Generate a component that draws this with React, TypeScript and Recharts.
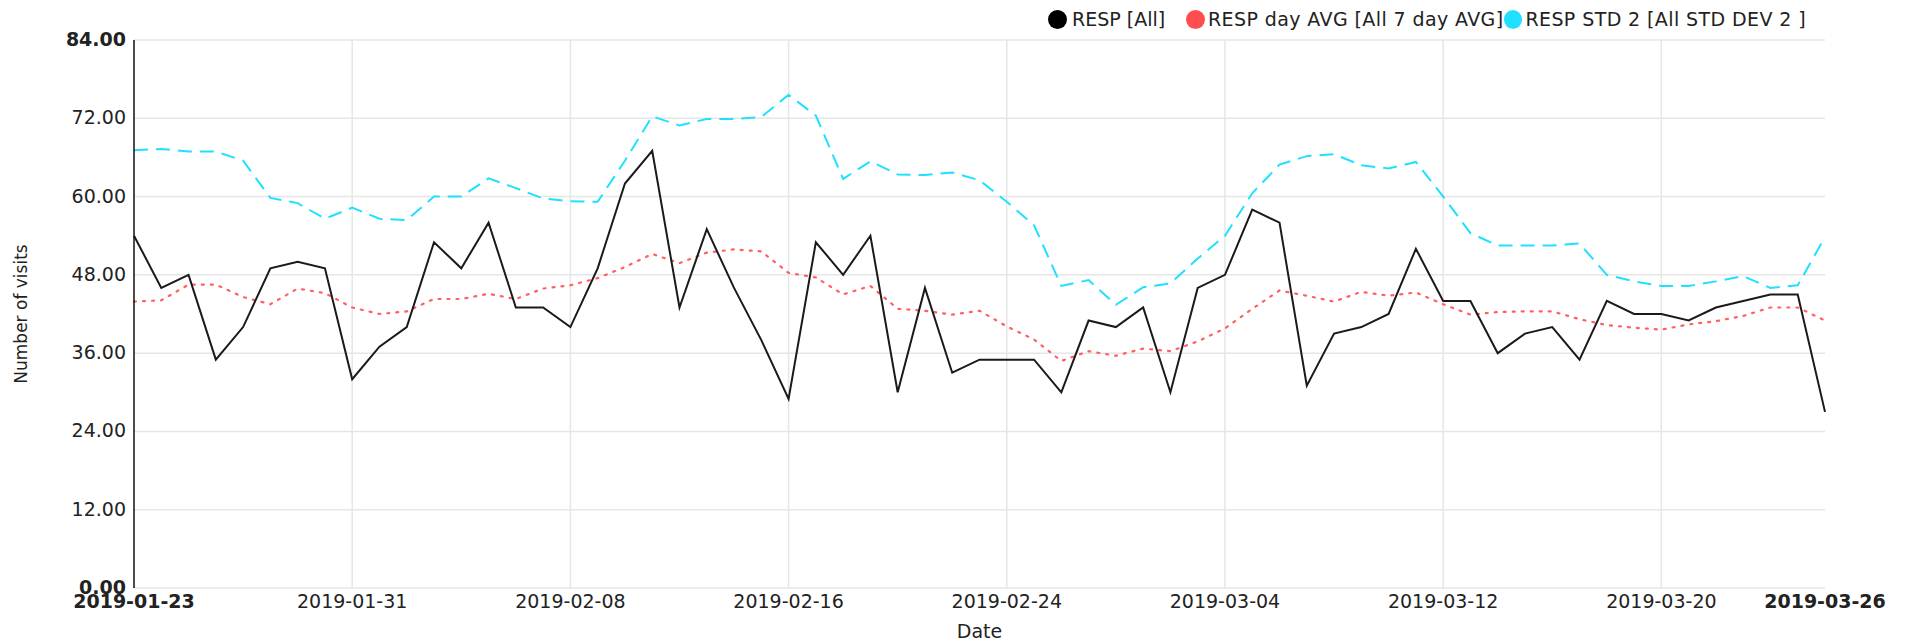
import { LineChart, Line, XAxis, YAxis, CartesianGrid, Label, ReferenceLine } from 'recharts';

// categories: one point per day starting 2019-01-23
const startDate = '2019-01-23';
const dayCount = 63;

function buildDates(start: string, count: number) {
  const out: string[] = [];
  const d = new Date(start + 'T00:00:00Z');
  for (let i = 0; i < count; i++) {
    out.push(d.toISOString().slice(0, 10));
    d.setUTCDate(d.getUTCDate() + 1);
  }
  return out;
}

const dates = buildDates(startDate, dayCount);
const xTickDays = [0, 8, 16, 24, 32, 40, 48, 56, 62];
const gridDays = [8, 16, 24, 32, 40, 48, 56];
const yTicks = [0, 12, 24, 36, 48, 60, 72, 84];

const resp = [
  54, 46, 48, 35, 40, 49, 50, 49, 32, 37, 40, 53, 49, 56, 43, 43, 40, 49, 62, 67, 43, 55, 46, 38, 29, 53, 48, 54, 30, 46,
  33, 35, 35, 35, 30, 41, 40, 43, 30, 46, 48, 58, 56, 31, 39, 40, 42, 52, 44, 44, 36, 39, 40, 35, 44, 42, 42, 41, 43, 44,
  45, 45, 27,
];
const avg7 = [
  43.9, 44.1, 46.5, 46.5, 44.6, 43.5, 45.9, 45.2, 43, 42, 42.4, 44.3, 44.3, 45.1, 44.3, 45.9, 46.4, 47.5, 49.2, 51.2, 49.8,
  51.4, 51.9, 51.6, 48.3, 47.6, 45, 46.3, 42.8, 42.5, 41.9, 42.5, 40.1, 38.1, 34.8, 36.3, 35.6, 36.7, 36.3, 37.8, 39.8, 42.8,
  45.6, 44.8, 43.9, 45.4, 44.8, 45.3, 43.5, 41.9, 42.3, 42.4, 42.4, 41.2, 40.3, 39.9, 39.6, 40.4, 40.9, 41.7, 43, 43, 41,
];
const std2 = [
  67.1, 67.3, 66.9, 66.9, 65.5, 59.8, 59, 56.6, 58.3, 56.6, 56.4, 60, 60, 62.8, 61.3, 59.7, 59.3, 59.2, 65.5, 72.3, 70.9,
  71.9, 71.9, 72.2, 75.6, 72.4, 62.7, 65.4, 63.4, 63.3, 63.7, 62.5, 59.2, 55.6, 46.3, 47.2, 43.4, 46.1, 46.7, 50.5, 54, 60.5,
  64.9, 66.2, 66.5, 64.8, 64.3, 65.3, 60, 54.4, 52.5, 52.5, 52.5, 52.8, 48, 47, 46.3, 46.3, 47, 47.8, 46, 46.4, 53.8,
];

const seriesNames = ['RESP [All]', 'RESP day AVG [All 7 day AVG]', 'RESP STD 2 [All STD DEV 2 ]'];
const seriesColors = ['#000000', '#ff4d4d', '#1fe0ff'];

const data = dates.map((date, i) => ({ day: i, date, resp: resp[i], avg: avg7[i], std: std2[i] }));

const FONT = "'DejaVu Sans', sans-serif";
const TEXT = '#222222';
const GRID = '#e6e6e6';

function DateTick(props: any) {
  const { x, y, payload } = props;
  const edge = payload.value === 0 || payload.value === dayCount - 1;
  return (
    <text x={x} y={y} dy={12} textAnchor="middle" fill={TEXT} fontSize={19} fontWeight={edge ? 'bold' : 'normal'}>
      {dates[payload.value]}
    </text>
  );
}

function ValueTick(props: any) {
  const { x, y, payload } = props;
  const edge = payload.value === 0 || payload.value === 84;
  return (
    <text x={x} y={y} dy={6} textAnchor="end" fill={TEXT} fontSize={19} fontWeight={edge ? 'bold' : 'normal'}>
      {Number(payload.value).toFixed(2)}
    </text>
  );
}

// legend items sit right after each other like the original
const legendWidths = [138, 318, 302];

function LegendBox() {
  return (
    <div style={{ position: 'absolute', top: 8, left: 1048, display: 'flex', fontSize: 19, color: TEXT, lineHeight: '23px' }}>
      {seriesNames.map((name, i) => (
        <div key={name} style={{ display: 'flex', alignItems: 'center', width: legendWidths[i], whiteSpace: 'nowrap' }}>
          <span style={{ display: 'inline-block', width: 19, height: 19, borderRadius: '50%', background: seriesColors[i], marginRight: i === 0 ? 5 : 3 }} />
          <span style={{ letterSpacing: i === 0 ? 0 : 0.4 }}>{name}</span>
        </div>
      ))}
    </div>
  );
}

export default function App() {
  return (
    <div style={{ position: 'absolute', left: 0, top: 0, width: 1910, height: 643, background: '#fff', fontFamily: FONT }}>
      <LineChart width={1910} height={643} data={data} margin={{ top: 40, right: 85, bottom: 0, left: 0 }}>
        <CartesianGrid stroke={GRID} strokeWidth={1.5} vertical={false} />
        {gridDays.map((d) => (
          <ReferenceLine key={d} x={d} stroke={GRID} strokeWidth={1.5} />
        ))}
        <XAxis
          dataKey="day"
          type="number"
          domain={[0, dayCount - 1]}
          ticks={xTickDays}
          interval={0}
          axisLine={false}
          tickLine={false}
          height={55}
          tick={<DateTick />}
        >
          <Label value="Date" position="insideBottom" offset={5} fill={TEXT} fontSize={19} />
        </XAxis>
        <YAxis
          type="number"
          domain={[0, 84]}
          ticks={yTicks}
          interval={0}
          width={134}
          axisLine={{ stroke: '#111', strokeWidth: 1.5 }}
          tickLine={false}
          tick={<ValueTick />}
        >
          <Label
            content={(p: any) => {
              const vb = p.viewBox || { x: 0, y: 40, height: 548 };
              const cx = vb.x + 21;
              const cy = vb.y + vb.height / 2;
              return (
                <text x={cx} y={cy} transform={`rotate(-90 ${cx} ${cy})`} textAnchor="middle" dominantBaseline="central" fill={TEXT} fontSize={17}>
                  Number of visits
                </text>
              );
            }}
          />
        </YAxis>
        <Line type="linear" dataKey="std" stroke={seriesColors[2]} strokeWidth={2} strokeDasharray="14 8" dot={false} isAnimationActive={false} />
        <Line type="linear" dataKey="avg" stroke="#ff6060" strokeWidth={2.2} strokeDasharray="2 7" strokeLinecap="round" dot={false} isAnimationActive={false} />
        <Line type="linear" dataKey="resp" stroke="#1a1a1a" strokeWidth={2} dot={false} isAnimationActive={false} />
      </LineChart>
      <LegendBox />
    </div>
  );
}
